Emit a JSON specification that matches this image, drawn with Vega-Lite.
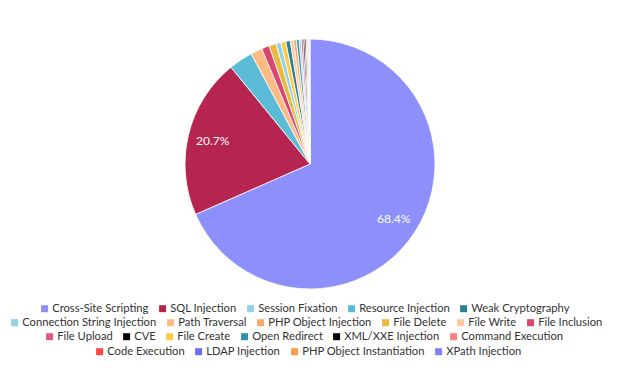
{
  "$schema": "https://vega.github.io/schema/vega-lite/v6.json",
  "width": 620,
  "height": 328,
  "autosize": {"type": "none"},
  "padding": {"left": 0, "top": 0, "right": 19, "bottom": 40},
  "background": "white",
  "data": {
    "values": [
      {"category": "Cross-Site Scripting", "value": 0.684, "rank": 1},
      {"category": "SQL Injection", "value": 0.207, "rank": 2},
      {"category": "Resource Injection", "value": 0.031, "rank": 3},
      {"category": "Path Traversal", "value": 0.015, "rank": 4},
      {"category": "File Inclusion", "value": 0.010, "rank": 5},
      {"category": "File Delete", "value": 0.009, "rank": 6},
      {"category": "Session Fixation", "value": 0.0065, "rank": 7},
      {"category": "File Create", "value": 0.0062, "rank": 8},
      {"category": "Weak Cryptography", "value": 0.006, "rank": 9},
      {"category": "File Write", "value": 0.0042, "rank": 10},
      {"category": "PHP Object Injection", "value": 0.0038, "rank": 11},
      {"category": "Open Redirect", "value": 0.0032, "rank": 12},
      {"category": "Connection String Injection", "value": 0.0028, "rank": 13},
      {"category": "File Upload", "value": 0.0025, "rank": 14},
      {"category": "CVE", "value": 0.0021, "rank": 15},
      {"category": "XML/XXE Injection", "value": 0.0018, "rank": 16},
      {"category": "Command Execution", "value": 0.0015, "rank": 17},
      {"category": "Code Execution", "value": 0.0012, "rank": 18},
      {"category": "LDAP Injection", "value": 0.001, "rank": 19},
      {"category": "PHP Object Instantiation", "value": 0.0007, "rank": 20},
      {"category": "XPath Injection", "value": 0.0005, "rank": 21}
    ]
  },
  "config": {
    "view": {"stroke": null},
    "legend": {
      "orient": "none",
      "direction": "horizontal",
      "title": null,
      "symbolType": "square",
      "symbolSize": 49,
      "symbolStrokeWidth": 0,
      "symbolOpacity": 1,
      "labelFont": "Lato",
      "labelFontSize": 11.2,
      "labelColor": "#333333",
      "columnPadding": 8,
      "labelOffset": 2,
      "padding": 0
    }
  },
  "layer": [
    {
      "transform": [
        {"stack": "value", "groupby": [], "sort": [{"field": "rank", "order": "ascending"}], "as": ["v0", "v1"], "offset": "normalize"},
        {"filter": {"field": "category", "oneOf": ["Cross-Site Scripting", "SQL Injection", "Session Fixation", "Resource Injection", "Weak Cryptography"]}}
      ],
      "mark": {"type": "arc", "radius": 125, "stroke": "white", "strokeWidth": 0.8},
      "encoding": {
        "theta": {"field": "v0", "type": "quantitative", "scale": {"domain": [0, 1]}},
        "theta2": {"field": "v1"},
        "color": {
          "field": "category", "type": "nominal",
          "scale": {"domain": ["Cross-Site Scripting", "SQL Injection", "Session Fixation", "Resource Injection", "Weak Cryptography"],
                    "range": ["#8d8ffb", "#b5254f", "#92d2e8", "#5cbbd6", "#2b7f95"]},
          "legend": {"legendX": 39, "legendY": 303, "columns": 5}
        }
      }
    },
    {
      "transform": [
        {"stack": "value", "groupby": [], "sort": [{"field": "rank", "order": "ascending"}], "as": ["v0", "v1"], "offset": "normalize"},
        {"filter": {"field": "category", "oneOf": ["Connection String Injection", "Path Traversal", "PHP Object Injection", "File Delete", "File Write", "File Inclusion"]}}
      ],
      "mark": {"type": "arc", "radius": 125, "stroke": "white", "strokeWidth": 0.8},
      "encoding": {
        "theta": {"field": "v0", "type": "quantitative", "scale": {"domain": [0, 1]}},
        "theta2": {"field": "v1"},
        "color": {
          "field": "category", "type": "nominal",
          "scale": {"domain": ["Connection String Injection", "Path Traversal", "PHP Object Injection", "File Delete", "File Write", "File Inclusion"],
                    "range": ["#8fd3e5", "#fdbb84", "#fda86b", "#e9b941", "#fdc79b", "#d9456f"]},
          "legend": {"legendX": 9, "legendY": 317, "columns": 6}
        }
      }
    },
    {
      "transform": [
        {"stack": "value", "groupby": [], "sort": [{"field": "rank", "order": "ascending"}], "as": ["v0", "v1"], "offset": "normalize"},
        {"filter": {"field": "category", "oneOf": ["File Upload", "CVE", "File Create", "Open Redirect", "XML/XXE Injection", "Command Execution"]}}
      ],
      "mark": {"type": "arc", "radius": 125, "stroke": "white", "strokeWidth": 0.8},
      "encoding": {
        "theta": {"field": "v0", "type": "quantitative", "scale": {"domain": [0, 1]}},
        "theta2": {"field": "v1"},
        "color": {
          "field": "category", "type": "nominal",
          "scale": {"domain": ["File Upload", "CVE", "File Create", "Open Redirect", "XML/XXE Injection", "Command Execution"],
                    "range": ["#df5b82", "#000000", "#fdca47", "#2b91ad", "#000000", "#ff7e7e"]},
          "legend": {"legendX": 44, "legendY": 331, "columns": 6}
        }
      }
    },
    {
      "transform": [
        {"stack": "value", "groupby": [], "sort": [{"field": "rank", "order": "ascending"}], "as": ["v0", "v1"], "offset": "normalize"},
        {"filter": {"field": "category", "oneOf": ["Code Execution", "LDAP Injection", "PHP Object Instantiation", "XPath Injection"]}}
      ],
      "mark": {"type": "arc", "radius": 125, "stroke": "white", "strokeWidth": 0.8},
      "encoding": {
        "theta": {"field": "v0", "type": "quantitative", "scale": {"domain": [0, 1]}},
        "theta2": {"field": "v1"},
        "color": {
          "field": "category", "type": "nominal",
          "scale": {"domain": ["Code Execution", "LDAP Injection", "PHP Object Instantiation", "XPath Injection"],
                    "range": ["#ff4444", "#6a6cfb", "#fd9a4c", "#7f80fc"]},
          "legend": {"legendX": 94, "legendY": 346, "columns": 4}
        }
      }
    },
    {
      "mark": {"type": "text", "radius": 100, "fill": "white", "font": "Lato", "fontSize": 12},
      "encoding": {
        "theta": {"field": "value", "type": "quantitative", "stack": true},
        "order": {"field": "rank", "type": "quantitative"},
        "text": {"field": "value", "type": "quantitative", "format": ".1%"},
        "opacity": {"condition": {"test": "datum.value < 0.1", "value": 0}, "value": 1}
      }
    }
  ],
  "resolve": {"scale": {"color": "independent", "theta": "independent"}}
}
